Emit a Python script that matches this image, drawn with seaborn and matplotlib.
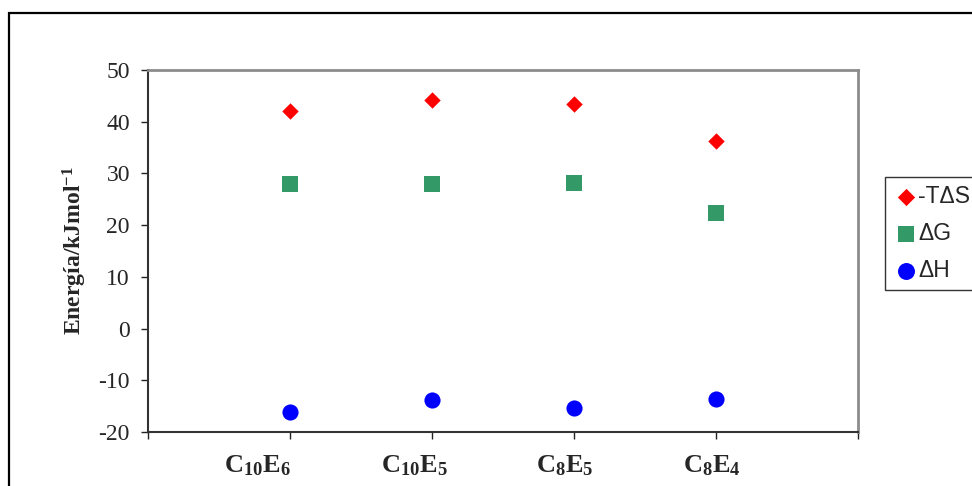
import numpy as np
import pandas as pd
import matplotlib
matplotlib.use("Agg")
import matplotlib.pyplot as plt
import matplotlib.transforms as mtransforms
from matplotlib.patches import Rectangle
import seaborn as sns

# ---- data ----
categories = [r"$\mathbf{C_{10}E_6}$", r"$\mathbf{C_{10}E_5}$", r"$\mathbf{C_8E_5}$", r"$\mathbf{C_8E_4}$"]
series_names = ["-TΔS", "ΔG", "ΔH"]
minus_TdS = [42.0, 44.2, 43.4, 36.3]
dG = [28.0, 28.0, 28.1, 22.4]
dH = [-16.2, -13.9, -15.3, -13.7]
y_ticks = [-20, -10, 0, 10, 20, 30, 40, 50]

colors = {"-TΔS": "#FF0000", "ΔG": "#339966", "ΔH": "#0000FF"}
markers = {"-TΔS": "D", "ΔG": "s", "ΔH": "o"}
sizes = {"-TΔS": 70, "ΔG": 125, "ΔH": 135}

pos = np.arange(1, len(categories) + 1)
df = pd.DataFrame({
    "x": np.tile(pos, 3),
    "y": minus_TdS + dG + dH,
    "serie": np.repeat(series_names, len(categories)),
})

sns.set_style("white")
plt.rcParams["mathtext.fontset"] = "custom"
plt.rcParams["mathtext.rm"] = "Liberation Serif"
plt.rcParams["mathtext.bf"] = "Liberation Serif:bold"
plt.rcParams["mathtext.it"] = "Liberation Serif:italic"

fig = plt.figure(figsize=(9.72, 4.86), dpi=100)
ax = fig.add_axes([148 / 972, 1 - 432 / 486, 710 / 972, 362 / 486])

for name in series_names:
    sub = df[df["serie"] == name]
    sns.scatterplot(data=sub, x="x", y="y", ax=ax, color=colors[name],
                    marker=markers[name], s=sizes[name], linewidth=0,
                    label=name, legend=False)

ax.set_xlim(0, len(categories) + 1)
ax.set_ylim(-20, 50)
ax.set_yticks(y_ticks)
ax.set_yticklabels([str(v) for v in y_ticks], fontfamily="Liberation Serif", fontsize=17)
ax.set_xticks(np.arange(0, len(categories) + 2))
ax.set_xticklabels([""] + categories + [""], fontsize=19)
ax.set_xlabel("")
ax.set_ylabel("Energía/kJmol$^{\\mathbf{-1}}$", fontfamily="Liberation Serif",
              fontweight="bold", fontsize=17, labelpad=7)

ax.tick_params(axis="both", direction="out", length=5, width=1, color="#222222",
               left=True, bottom=True)
ax.tick_params(axis="y", pad=8)
ax.tick_params(axis="x", pad=10)

# Shift x tick labels as in the reference
offsets_px = [0, -33, -18, -9, -4, 0]
for lab, dx in zip(ax.get_xticklabels(), offsets_px):
    lab.set_transform(lab.get_transform() + mtransforms.ScaledTranslation(dx / 100, 0, fig.dpi_scale_trans))

for side in ["left", "bottom"]:
    ax.spines[side].set_color("#333333")
    ax.spines[side].set_linewidth(1.5)
for side in ["top", "right"]:
    ax.spines[side].set_color("#8c8c8c")
    ax.spines[side].set_linewidth(2.0)
    ax.spines[side].set_visible(True)

handles, labels = ax.get_legend_handles_labels()
leg = fig.legend(handles, labels, loc="upper left",
                 bbox_to_anchor=(885 / 972, 1 - 177 / 486),
                 bbox_transform=fig.transFigure, borderaxespad=0,
                 prop={"family": "Liberation Sans", "size": 16.5},
                 frameon=True, fancybox=False, edgecolor="black",
                 handletextpad=0.0, handlelength=1.1, labelspacing=0.6,
                 borderpad=0.35, markerscale=1.05)
leg.get_frame().set_linewidth(1.0)

# Outer chart border
fig.add_artist(Rectangle((9 / 972, -0.5), 2.0, 0.5 + (1 - 13 / 486),
                         transform=fig.transFigure, fill=False,
                         edgecolor="black", linewidth=1.6))

fig.savefig("out.png", dpi=100)
